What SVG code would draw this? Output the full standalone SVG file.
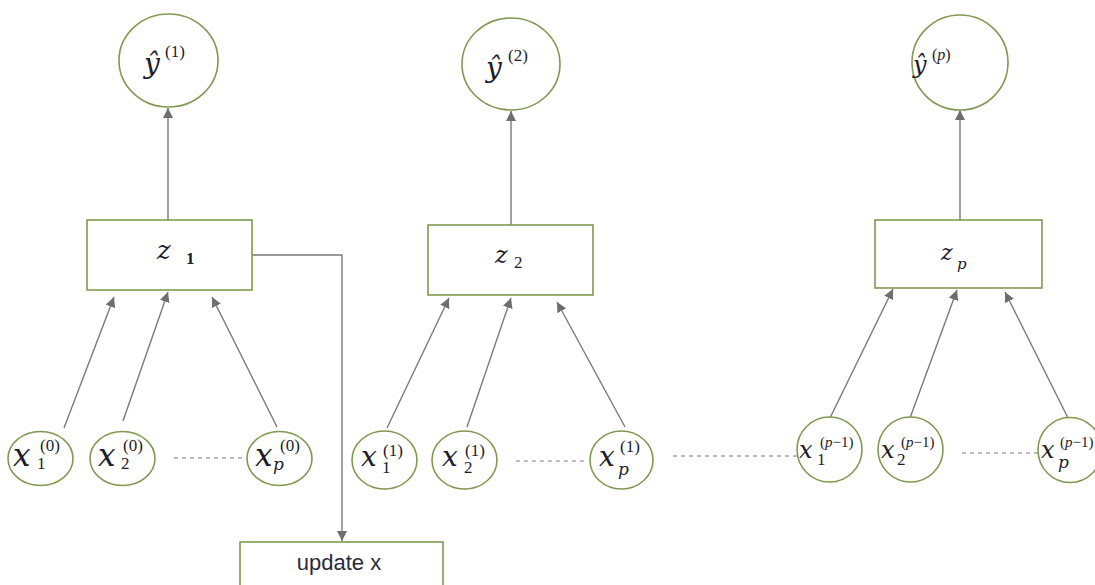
<svg xmlns="http://www.w3.org/2000/svg" width="1095" height="585" viewBox="0 0 1095 585">
<style>
.node{fill:#fff;stroke:#7f9a50;stroke-width:1.6}
.edge{stroke:#7a7a7a;stroke-width:1.4;fill:none}
.dash{stroke:#7a7a7a;stroke-width:1.2;stroke-dasharray:4 4;fill:none}
.m{font-family:"DejaVu Serif","Liberation Serif",serif;font-style:italic;fill:#1c1c2a}
.r{font-family:"Liberation Serif","DejaVu Serif",serif;font-style:normal;fill:#1c1c2a}
.big{font-size:31px}
.mid{font-size:28px}
.sm{font-size:24px}
.sub{font-size:17px}
.sup{font-size:17px}
.yh{font-size:28px}
.z{font-size:26px}
.lbl{font-family:"Liberation Sans",Arial,sans-serif;font-size:22px;fill:#2a2a3a}
</style>
<defs>
<marker id="ah" viewBox="0 0 10 10" refX="10" refY="5" markerWidth="10" markerHeight="10" markerUnits="userSpaceOnUse" orient="auto">
<path d="M0,0 L10,5 L0,10 z" fill="#6e6e6e"/>
</marker>
</defs>
<g id="connectors">
<line class="edge" x1="168" y1="220" x2="168" y2="108" marker-end="url(#ah)"/>
<line class="edge" x1="511" y1="225" x2="511" y2="111" marker-end="url(#ah)"/>
<line class="edge" x1="960" y1="220" x2="960" y2="110" marker-end="url(#ah)"/>
<polyline class="edge" points="252,255 342,255 342,541" marker-end="url(#ah)"/>
<line class="edge" x1="64" y1="428" x2="114" y2="297" marker-end="url(#ah)"/>
<line class="edge" x1="123" y1="421" x2="168" y2="292" marker-end="url(#ah)"/>
<line class="edge" x1="277" y1="427" x2="212" y2="297" marker-end="url(#ah)"/>
<line class="edge" x1="387" y1="428" x2="449" y2="298" marker-end="url(#ah)"/>
<line class="edge" x1="467" y1="427" x2="511" y2="298" marker-end="url(#ah)"/>
<line class="edge" x1="625" y1="427" x2="557" y2="302" marker-end="url(#ah)"/>
<line class="edge" x1="830" y1="418" x2="893" y2="289" marker-end="url(#ah)"/>
<line class="edge" x1="910" y1="418" x2="957" y2="290" marker-end="url(#ah)"/>
<line class="edge" x1="1068" y1="418" x2="1005" y2="292" marker-end="url(#ah)"/>
<line class="dash" x1="174" y1="458" x2="242" y2="458"/>
<line class="dash" x1="516" y1="461" x2="586" y2="461"/>
<line class="dash" x1="673" y1="456" x2="797" y2="456"/>
<line class="dash" x1="962" y1="453" x2="1038" y2="453"/>
</g>
<g id="yhat1"><ellipse class="node" cx="168.5" cy="60.5" rx="49.5" ry="46.5"/>
<text class="m yh" x="144" y="73">ŷ</text><text class="r sup" x="165" y="57">(1)</text></g>
<g id="yhat2"><ellipse class="node" cx="511" cy="64" rx="49" ry="46"/>
<text class="m yh" x="486" y="77">ŷ</text><text class="r sup" x="508" y="61">(2)</text></g>
<g id="yhatp"><ellipse class="node" cx="960" cy="62.5" rx="48" ry="47.5"/>
<text class="m" font-size="24" x="913" y="73">ŷ</text><text class="r" font-size="16" x="932" y="60">(<tspan font-style="italic">p</tspan>)</text></g>
<g id="z1"><rect class="node" x="87" y="220" width="165" height="70"/>
<text class="m z" x="157" y="259">z</text><text class="r sub" font-weight="bold" x="186" y="264">1</text></g>
<g id="z2"><rect class="node" x="428" y="225" width="165" height="70"/>
<text class="m" font-size="24" x="495" y="263">z</text><text class="r sub" x="514" y="268">2</text></g>
<g id="zp"><rect class="node" x="875" y="220" width="167" height="68"/>
<text class="m" font-size="22" x="941" y="260">z</text><text class="m" font-size="15" x="957" y="269">p</text></g>
<g id="update"><rect class="node" x="240" y="542" width="203" height="50"/>
<text class="lbl" x="339" y="570" text-anchor="middle">update x</text></g>
<g id="x1_0"><ellipse class="node" cx="40.5" cy="458.5" rx="32.5" ry="27"/>
<text class="m big" x="13" y="466">x</text><text class="r sub" x="37" y="469">1</text><text class="r sup" x="40" y="451">(0)</text></g>
<g id="x2_0"><ellipse class="node" cx="122.5" cy="458.5" rx="32.5" ry="27"/>
<text class="m big" x="98" y="466">x</text><text class="r sub" x="121" y="469">2</text><text class="r sup" x="123" y="451">(0)</text></g>
<g id="xp_0"><ellipse class="node" cx="279.5" cy="458.5" rx="32.5" ry="27"/>
<text class="m big" x="255" y="466">x</text><text class="m sub" x="273" y="470">p</text><text class="r sup" x="280" y="451">(0)</text></g>
<g id="x1_1"><ellipse class="node" cx="384.5" cy="460" rx="32.5" ry="29"/>
<text class="m mid" x="361" y="466">x</text><text class="r sub" x="382" y="473">1</text><text class="r sup" x="383" y="456">(1)</text></g>
<g id="x2_1"><ellipse class="node" cx="464.5" cy="460" rx="32.5" ry="29"/>
<text class="m mid" x="442" y="466">x</text><text class="r sub" x="464" y="473">2</text><text class="r sup" x="465" y="456">(1)</text></g>
<g id="xp_1"><ellipse class="node" cx="621.5" cy="460" rx="31.5" ry="29"/>
<text class="m mid" x="599" y="466">x</text><text class="m sub" x="618" y="475">p</text><text class="r sup" x="620" y="452">(1)</text></g>
<g id="x1_p1"><ellipse class="node" cx="829.5" cy="449.5" rx="32.5" ry="32.5"/>
<text class="m sm" x="799" y="458">x</text><text class="r sub" x="817" y="465">1</text><text class="r" font-size="15" x="820" y="447">(<tspan font-style="italic">p</tspan>−1)</text></g>
<g id="x2_p1"><ellipse class="node" cx="910.5" cy="449.5" rx="32.5" ry="32.5"/>
<text class="m sm" x="881" y="458">x</text><text class="r sub" x="897" y="465">2</text><text class="r" font-size="15" x="901" y="447">(<tspan font-style="italic">p</tspan>−1)</text></g>
<g id="xp_p1"><ellipse class="node" cx="1070" cy="450" rx="32" ry="32.5"/>
<text class="m sm" x="1041" y="458">x</text><text class="m sub" x="1058" y="468">p</text><text class="r" font-size="15" x="1060" y="447">(<tspan font-style="italic">p</tspan>−1)</text></g>
</svg>
